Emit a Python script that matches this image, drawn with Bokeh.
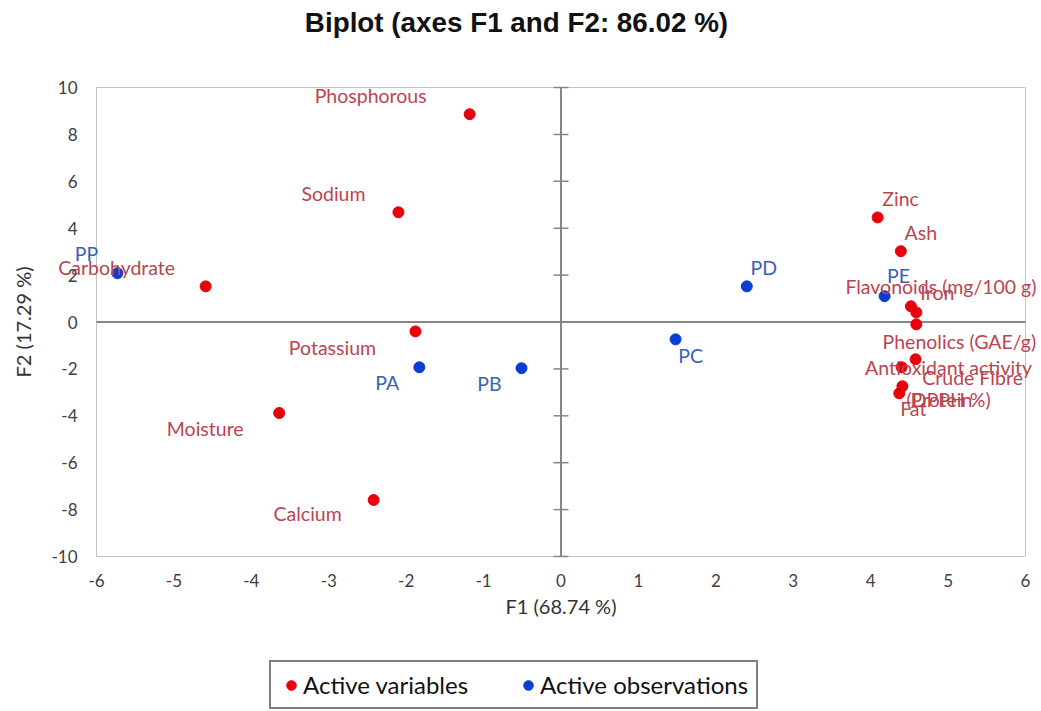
from bokeh.plotting import figure
from bokeh.layouts import column
from bokeh.models import (ColumnDataSource, FixedTicker, Legend, LegendItem,
                          PrintfTickFormatter, Label)
from bokeh.core.properties import value
from bokeh.embed import file_html
from bokeh.resources import INLINE

# ---- data ----
var_names = ["Phosphorous", "Sodium", "Carbohydrate", "Potassium", "Moisture", "Calcium",
             "Zinc", "Ash", "Flavonoids (mg/100 g)", "Iron", "Phenolics (GAE/g)",
             "Crude Fibre", "Antioxidant activity\n(DPPH %)", "Protein", "Fat"]
var_f1 = [-1.18, -2.10, -4.59, -1.88, -3.64, -2.42,
          4.09, 4.39, 4.52, 4.59, 4.59, 4.58, 4.40, 4.41, 4.37]
var_f2 = [8.86, 4.68, 1.52, -0.40, -3.88, -7.59,
          4.46, 3.02, 0.67, 0.41, -0.10, -1.59, -1.93, -2.74, -3.04]

obs_names = ["PP", "PA", "PB", "PC", "PD", "PE"]
obs_f1 = [-5.73, -1.83, -0.51, 1.48, 2.40, 4.18]
obs_f2 = [2.08, -1.93, -1.97, -0.74, 1.52, 1.10]

x_ticks = [-6, -5, -4, -3, -2, -1, 0, 1, 2, 3, 4, 5, 6]
y_ticks = [-10, -8, -6, -4, -2, 0, 2, 4, 6, 8, 10]

title_text = "Biplot (axes F1 and F2: 86.02 %)"
x_label = "F1 (68.74 %)"
y_label = "F2 (17.29 %)"
legend_labels = ["Active variables", "Active observations"]

# ---- label placement (pixel offsets, screen: +y is down; style only) ----
var_dx = [-99, -65, -89, -83, -74, -66, 23, 20, 30, 21, 43, 57, 47, 39, 14]
var_dy = [-19, -19, -19, 16, 16, 14, -19, -19, -20, -20, 17, 18, 16, 13, 15]
obs_dx = [-31, -32, -32, 15, 17, 14]
obs_dy = [-20, 15, 15, 16, -19, -21]

RED = "#E8000B"
BLUE = "#0A3ED0"
RED_TXT = "#BC4450"
BLUE_TXT = "#3B62B4"
FONT = "Lato"

# ---- layout geometry (pixels) ----
W = 1041
H_TITLE, H_MAIN, H_LEG = 44, 596, 70
BOX_L, BOX_R = 96, 1025          # canvas x of the -6 / +6 edges of the plot box
BOX_T, BOX_B = 43, 512           # canvas y (in main figure) of the +10 / -10 edges
px_per_x = (BOX_R - BOX_L) / (x_ticks[-1] - x_ticks[0])
px_per_y = (BOX_B - BOX_T) / (y_ticks[-1] - y_ticks[0])
x_rng = (x_ticks[0] - BOX_L / px_per_x, x_ticks[-1] + (W - BOX_R) / px_per_x)
y_rng = (y_ticks[0] - (H_MAIN - BOX_B) / px_per_y, y_ticks[-1] + BOX_T / px_per_y)

vsrc = ColumnDataSource(dict(x=var_f1, y=var_f2, name=var_names, dx=var_dx, dy=var_dy))
osrc = ColumnDataSource(dict(x=obs_f1, y=obs_f2, name=obs_names, dx=obs_dx, dy=obs_dy))

# ---- title strip ----
tf = figure(width=W, height=H_TITLE, output_backend="svg", toolbar_location=None,
            x_range=(0, 1), y_range=(0, 1),
            min_border_left=0, min_border_right=0, min_border_top=0, min_border_bottom=0)
tf.axis.visible = False
tf.xgrid.visible = False
tf.ygrid.visible = False
tf.outline_line_color = None
tf.add_layout(Label(x=516, y=22, x_units="screen", y_units="screen", text=title_text,
                    text_align="center", text_baseline="middle",
                    text_font="Liberation Sans", text_font_style="bold",
                    text_font_size="27.8px", text_color="#111111"))

# ---- main biplot ----
p = figure(width=W, height=H_MAIN, output_backend="svg", toolbar_location=None,
           x_range=x_rng, y_range=y_rng,
           min_border_left=0, min_border_right=0, min_border_top=0, min_border_bottom=0)

xa = p.xaxis[0]
ya = p.yaxis[0]

p.xgrid.visible = False
p.ygrid.visible = False
p.outline_line_color = None
p.background_fill_color = "white"
p.border_fill_color = "white"

for ax in (xa, ya):
    ax.axis_line_color = None
    ax.major_tick_line_color = None
    ax.minor_tick_line_color = None
    ax.major_label_text_font = FONT
    ax.major_label_text_font_size = "17px"
    ax.major_label_text_color = "#404040"
    ax.axis_label_text_font = FONT
    ax.axis_label_text_font_size = "20px"
    ax.axis_label_text_font_style = "normal"
    ax.axis_label_text_color = "#333333"
    ax.formatter = PrintfTickFormatter(format="%d")

xa.ticker = FixedTicker(ticks=x_ticks)
ya.ticker = FixedTicker(ticks=y_ticks)
xa.bounds = (x_ticks[0], x_ticks[-1])
ya.bounds = (y_ticks[0], y_ticks[-1])
xa.fixed_location = y_ticks[0]
ya.fixed_location = x_ticks[0]
xa.major_label_standoff = 11
ya.major_label_standoff = 13
xa.axis_label = x_label
ya.axis_label = y_label
xa.axis_label_standoff = 4
ya.axis_label_standoff = 13

# plot box
p.quad(left=[x_ticks[0]], right=[x_ticks[-1]], bottom=[y_ticks[0]], top=[y_ticks[-1]],
       fill_color=None, line_color="#c4c4c4", line_width=1)

# centre cross with ticks on the vertical line
p.segment(x0=[x_ticks[0], 0], y0=[0, y_ticks[0]], x1=[x_ticks[-1], 0], y1=[0, y_ticks[-1]],
          line_color="#868686", line_width=2)
p.scatter(x=[0] * len(y_ticks), y=y_ticks, marker="dash", size=15, line_color="#868686", line_width=1.5)

p.scatter("x", "y", source=vsrc, size=11, fill_color=RED, line_color=RED)
p.scatter("x", "y", source=osrc, size=11, fill_color=BLUE, line_color=BLUE)

p.text("x", "y", text="name", source=vsrc, x_offset="dx", y_offset="dy",
       text_align="center", text_baseline="middle", text_font=value(FONT),
       text_font_size="19.5px", text_color=RED_TXT, text_line_height=1.4)
p.text("x", "y", text="name", source=osrc, x_offset="dx", y_offset="dy",
       text_align="center", text_baseline="middle", text_font=value(FONT),
       text_font_size="19.5px", text_color=BLUE_TXT)

# ---- legend strip ----
lg = figure(width=W, height=H_LEG, output_backend="svg", toolbar_location=None,
            x_range=(100, 101), y_range=(100, 101),
            min_border_left=0, min_border_right=0, min_border_top=0, min_border_bottom=0)
lg.axis.visible = False
lg.xgrid.visible = False
lg.ygrid.visible = False
lg.outline_line_color = None
rv = lg.scatter("x", "y", source=vsrc, size=11, fill_color=RED, line_color=RED)
ro = lg.scatter("x", "y", source=osrc, size=11, fill_color=BLUE, line_color=BLUE)

legend = Legend(items=[LegendItem(label=legend_labels[0], renderers=[rv]),
                       LegendItem(label=legend_labels[1], renderers=[ro])],
                orientation="horizontal", location=(269, 1), margin=0,
                padding=8, spacing=48, label_standoff=0,
                glyph_width=24, glyph_height=24,
                label_text_font=FONT, label_text_font_size="24px", label_text_color="#111111",
                border_line_color="black", border_line_width=2, background_fill_alpha=1)
lg.add_layout(legend, "center")

layout = column(tf, p, lg, spacing=0)
open("out.html", "w").write(file_html(layout, INLINE))
